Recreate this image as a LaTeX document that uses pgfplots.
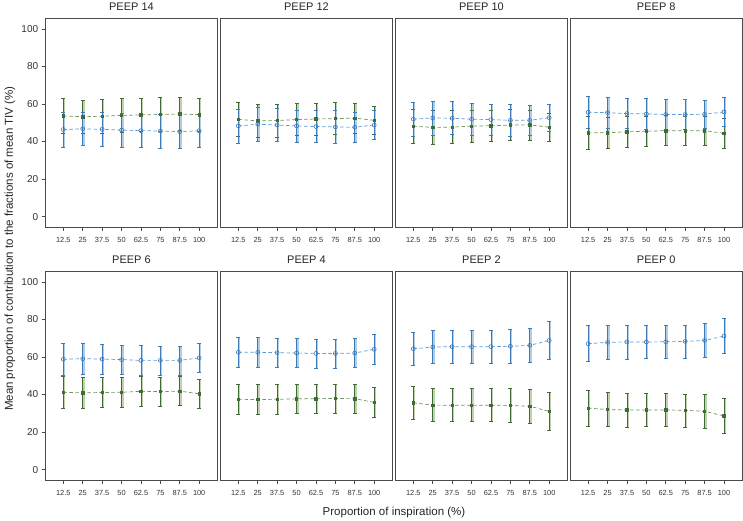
\documentclass[border=0pt]{standalone}
\usepackage{fontspec}
\setmainfont{Liberation Sans}
\usepackage{pgfplots}
\usepackage{pgfplotstable}
\pgfplotsset{compat=1.18}

\definecolor{bluedark}{HTML}{3D7AB8}
\definecolor{bluepale}{HTML}{AFCFE8}
\definecolor{blueline}{HTML}{5B9BD5}
\definecolor{greendark}{HTML}{3F6B35}
\definecolor{greenpale}{HTML}{C0D3AC}
\definecolor{greenline}{HTML}{6F9457}
\definecolor{frame}{HTML}{4A4A4A}

% columns: x, blue mean, green mean, sd
\pgfplotstableread{
x    b     g     e
12.5 46.4  53.6  9.2
25   46.8  53.2  9.0
37.5 46.5  53.5  8.9
50   46.1  53.9  9.0
62.5 45.8  54.2  9.0
75   45.6  54.4  9.0
87.5 45.3  54.7  8.9
100  45.7  54.3  8.8
}\pA
\pgfplotstableread{
x    b     g     e
12.5 48.3  51.8  9.0
25   49.2  51.0  8.9
37.5 48.8  51.2  8.8
50   48.3  51.7  8.6
62.5 48.0  52.0  8.5
75   47.8  52.2  8.6
87.5 47.6  52.5  8.1
100  48.8  51.3  7.6
}\pB
\pgfplotstableread{
x    b     g     e
12.5 51.9  48.2  9.0
25   52.6  47.5  9.1
37.5 52.4  47.7  8.8
50   51.9  48.2  8.4
62.5 51.7  48.4  8.4
75   51.3  48.8  8.3
87.5 51.3  48.9  8.0
100  52.7  47.6  7.4
}\pC
\pgfplotstableread{
x    b     g     e
12.5 55.6  44.6  8.7
25   55.4  44.7  8.4
37.5 54.9  45.2  8.1
50   54.7  45.5  8.2
62.5 54.4  45.8  8.0
75   54.4  45.8  7.9
87.5 54.5  45.8  7.6
100  55.8  44.4  7.8
}\pD
\pgfplotstableread{
x    b     g     e
12.5 58.8  41.2  8.4
25   59.1  40.9  8.2
37.5 58.9  41.1  8.0
50   58.6  41.2  7.8
62.5 58.2  41.7  7.8
75   58.2  41.6  7.7
87.5 58.2  41.8  7.7
100  59.5  40.4  7.7
}\pE
\pgfplotstableread{
x    b     g     e
12.5 62.5  37.5  8.0
25   62.5  37.3  8.0
37.5 62.3  37.5  7.9
50   62.1  37.7  7.7
62.5 61.9  37.8  7.7
75   61.9  37.9  7.7
87.5 62.1  37.8  7.6
100  64.1  35.8  8.0
}\pF
\pgfplotstableread{
x    b     g     e
12.5 64.4  35.6  8.8
25   65.3  34.4  8.8
37.5 65.5  34.3  8.8
50   65.5  34.3  8.8
62.5 65.5  34.3  8.8
75   65.7  34.2  8.9
87.5 66.2  33.8  9.0
100  68.8  31.0  10.0
}\pG
\pgfplotstableread{
x    b     g     e
12.5 67.1  32.8  9.6
25   67.8  32.0  9.1
37.5 68.0  31.8  9.0
50   68.0  31.8  8.8
62.5 68.1  31.8  8.8
75   68.3  31.6  8.8
87.5 68.8  31.1  9.0
100  71.2  28.6  9.3
}\pH

\pgfplotsset{
  panelstyle/.style={
    scale only axis, width=171.5pt, height=209pt,
    anchor=south west,
    xmin=1.15, xmax=111.6, ymin=-5.5, ymax=105.8,
    axis line style={frame, line width=0.8pt},
    xtick={12.5,25,37.5,50,62.5,75,87.5,100},
    xticklabels={12.5,25,37.5,50,62.5,75,87.5,100},
    xtick pos=bottom, ytick pos=left,
    tick align=outside, major tick length=4pt,
    tick style={frame, line width=0.6pt},
    xticklabel style={font=\fontsize{7.4}{8}\selectfont, text=black!80, yshift=-3pt},
    yticklabel style={font=\fontsize{10}{11}\selectfont, text=black!80},
    /pgf/number format/assume math mode=true,
    title style={font=\fontsize{11}{13}\selectfont, text=black!85, anchor=base, yshift=1pt},
    ytick=\empty,
  },
  firstcol/.style={ytick={0,20,40,60,80,100}},
  dashpat/.style={dash pattern=on 3.5pt off 2.5pt, line width=0.7pt},
}

\newcommand{\panel}[5]{%
  \begin{axis}[panelstyle, at={(#1pt,#2pt)}, title={#3}, #5]
    \addplot[draw=none, forget plot, error bars/.cd, y dir=both, y explicit,
      error mark=none, error bar style={solid, line width=2.2pt, greenpale, xshift=0.9pt}]
      table[x=x, y=g, y error=e] {#4};
    \addplot[draw=none, forget plot, error bars/.cd, y dir=both, y explicit,
      error mark=none, error bar style={solid, line width=2.2pt, bluepale, xshift=0.9pt}]
      table[x=x, y=b, y error=e] {#4};
    \addplot[greenline, dashpat, mark=square*,
      mark options={solid, draw=greendark, fill=greendark, mark size=1.2pt},
      error bars/.cd, y dir=both, y explicit,
      error bar style={solid, greendark, line width=0.6pt},
      error mark options={solid, rotate=90, mark size=2pt, greendark, line width=0.6pt}]
      table[x=x, y=g, y error=e] {#4};
    \addplot[blueline, dashpat, mark=o,
      mark options={solid, draw=bluedark, fill=white, mark size=2pt, line width=0.6pt},
      error bars/.cd, y dir=both, y explicit,
      error bar style={solid, bluedark, line width=0.6pt},
      error mark options={solid, rotate=90, mark size=2pt, bluedark, line width=0.6pt}]
      table[x=x, y=b, y error=e] {#4};
  \end{axis}}

\begin{document}
\begin{tikzpicture}
  \useasboundingbox (0,0) rectangle (743pt,521pt);
  \panel{45.7}{294}{PEEP 14}{\pA}{firstcol}
  \panel{220.7}{294}{PEEP 12}{\pB}{}
  \panel{395.7}{294}{PEEP 10}{\pC}{}
  \panel{570.5}{294}{PEEP 8}{\pD}{}
  \panel{45.7}{41}{PEEP 6}{\pE}{firstcol}
  \panel{220.7}{41}{PEEP 4}{\pF}{}
  \panel{395.7}{41}{PEEP 2}{\pG}{}
  \panel{570.5}{41}{PEEP 0}{\pH}{}
  \node[rotate=90, font=\fontsize{11.5}{13}\selectfont, text=black!85] at (10pt,272.4pt)
    {Mean proportion of contribution to the fractions of mean TIV (\%)};
  \node[font=\fontsize{11.5}{13}\selectfont, text=black!85] at (394pt,8pt)
    {Proportion of inspiration (\%)};
\end{tikzpicture}
\end{document}
